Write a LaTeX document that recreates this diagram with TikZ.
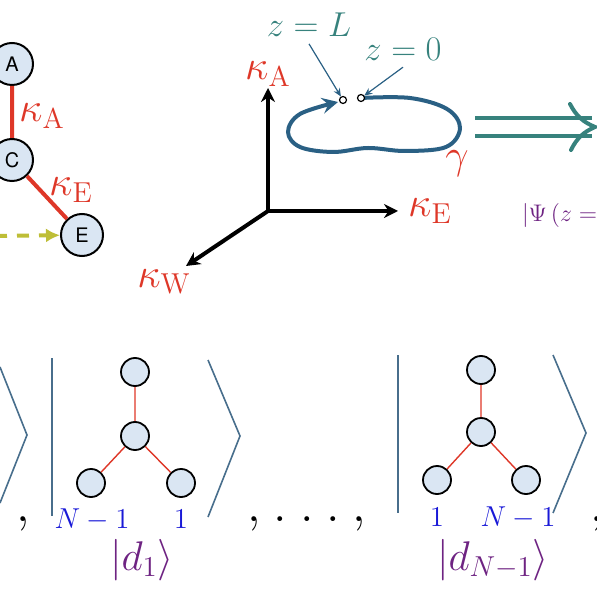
\documentclass[tikz,border=0pt]{standalone}
\usepackage{amsmath,amssymb}
\usepackage{fontspec}
\newfontfamily\helv{TeX Gyre Heros}
\usepackage{tikz}
\usetikzlibrary{arrows.meta}
\usepackage{xcolor}

\definecolor{bondred}{RGB}{222,55,40}
\definecolor{sitefill}{RGB}{218,230,243}
\definecolor{flowolive}{RGB}{190,190,55}
\definecolor{loopblue}{RGB}{42,96,132}
\definecolor{zteal}{RGB}{55,130,125}
\definecolor{ketgrey}{RGB}{72,110,140}
\definecolor{statepurple}{RGB}{110,35,130}
\definecolor{countblue}{RGB}{25,25,215}

\tikzset{
    site/.style={circle, draw, line width=1pt, fill=sitefill, minimum size=21pt, inner sep=0pt, font=\helv\normalsize},
    smallsite/.style={circle, draw, line width=0.9pt, fill=sitefill, minimum size=14pt, inner sep=0pt},
    bond/.style={bondred, line width=2pt},
    thinbond/.style={bondred, line width=0.7pt},
    axis/.style={line width=2pt, -{Stealth[length=7pt, width=7pt]}},
    coupling/.style={text=bondred, font=\huge},
    ketline/.style={ketgrey, line width=0.8pt},
    punct/.style={font=\fontsize{28}{32}\selectfont, anchor=base},
    endpt/.style={circle, draw, fill=white, line width=0.6pt, minimum size=3.5pt, inner sep=0pt},
    pointer/.style={loopblue, line width=0.6pt, -{Stealth[length=4pt, width=3.5pt]}}
}

\begin{document}
\begin{tikzpicture}[x=0.5pt, y=-0.5pt]
    \clip (0,0) rectangle (597,597);

    % Coupling graph
    \node[site] (A) at (12,64) {A};
    \node[site] (C) at (12,160) {C};
    \node[site] (E) at (82,235) {E};
    \draw[bond] (A) -- (C) -- (E);
    \node[coupling] (kA) at (42,116) {$\kappa_{\mathrm{A}}$};
    \node[coupling] (kE) at (71,190) {$\kappa_{\mathrm{E}}$};
    \coordinate (src) at (-5,236);
    \draw[flowolive, line width=2pt, dash pattern=on 6pt off 5pt, -{Latex[length=7pt, width=7pt]}] (src) -- (E);

    % Parameter space
    \coordinate (O) at (268,211);
    \coordinate (axA) at (268,88);
    \coordinate (axE) at (398,211);
    \coordinate (axW) at (186,266);
    \draw[axis] (O) -- (axA);
    \draw[axis] (O) -- (axE);
    \draw[axis] (O) -- (axW);
    \node[coupling] (lA) at (268,74) {$\kappa_{\mathrm{A}}$};
    \node[coupling] (lE) at (430,211) {$\kappa_{\mathrm{E}}$};
    \node[coupling] (lW) at (164,282) {$\kappa_{\mathrm{W}}$};

    % Closed path gamma
    \draw[loopblue, line width=2pt, -{Stealth[length=8pt, width=8pt, inset=3pt]}]
        plot[smooth, tension=0.6] coordinates {(361,98) (410,98) (447,109) (460,128) (446,147) (405,151) (368,148) (333,152) (300,147) (288,132) (300,114) (338,102)};
    \node[endpt] (zL) at (343,100) {};
    \node[endpt] (z0) at (361,98) {};
    \node[text=zteal, font=\LARGE] (lblL) at (309,25) {$z=L$};
    \node[text=zteal, font=\LARGE] (lbl0) at (403,49) {$z=0$};
    \draw[pointer] (lblL.south) -- (zL);
    \draw[pointer] (lbl0.south) -- (z0);
    \node[text=bondred, font=\huge] (gam) at (457,164) {$\gamma$};

    % Implies arrow
    \draw[zteal, line width=2pt] (475,118) -- (592,118);
    \draw[zteal, line width=2pt] (475,136) -- (592,136);
    \draw[zteal, line width=2pt, line cap=round] (570,104) to[bend right=20] (595,127) to[bend right=20] (571,150);
    \node[text=statepurple, font=\large, anchor=west] (psi) at (515,216) {$|\Psi\left(z=L\right)\rangle$};

    % Dark states
    \draw[ketline] (0,367) -- (27,435) -- (0,503);
    \node[punct] (c0) at (23,521) {$,$};

    \draw[ketline] (52,358) -- (52,516);
    \node[smallsite] (a1) at (135,372) {};
    \node[smallsite] (b1) at (135,436) {};
    \node[smallsite] (l1) at (91,483) {};
    \node[smallsite] (r1) at (181,483) {};
    \draw[thinbond] (a1) -- (b1) -- (l1);
    \draw[thinbond] (b1) -- (r1);
    \draw[ketline] (208,360) -- (240,436) -- (208,517);
    \node[text=countblue, font=\Large, anchor=base] (n1) at (92,528) {$N-1$};
    \node[text=countblue, font=\Large, anchor=base] (o1) at (181,528) {$1$};
    \node[text=statepurple, font=\huge] (d1) at (142,560) {$|d_1\rangle$};

    \node[punct] (c1) at (254,521) {$,$};
    \foreach \x in {280,307,333}
        \node[punct] at (\x,521) {$.$};
    \node[punct] (c2) at (359,521) {$,$};

    \draw[ketline] (398,355) -- (398,513);
    \node[smallsite] (a2) at (481,370) {};
    \node[smallsite] (b2) at (481,432) {};
    \node[smallsite] (l2) at (437,480) {};
    \node[smallsite] (r2) at (526,480) {};
    \draw[thinbond] (a2) -- (b2) -- (l2);
    \draw[thinbond] (b2) -- (r2);
    \draw[ketline] (553,355) -- (586,433) -- (553,513);
    \node[text=countblue, font=\Large, anchor=base] (o2) at (437,526) {$1$};
    \node[text=countblue, font=\Large, anchor=base] (n2) at (518,526) {$N-1$};
    \node[text=statepurple, font=\huge] (d2) at (493,560) {$|d_{N-1}\rangle$};

    \node[punct] (c3) at (597,521) {$,$};
\end{tikzpicture}
\end{document}
